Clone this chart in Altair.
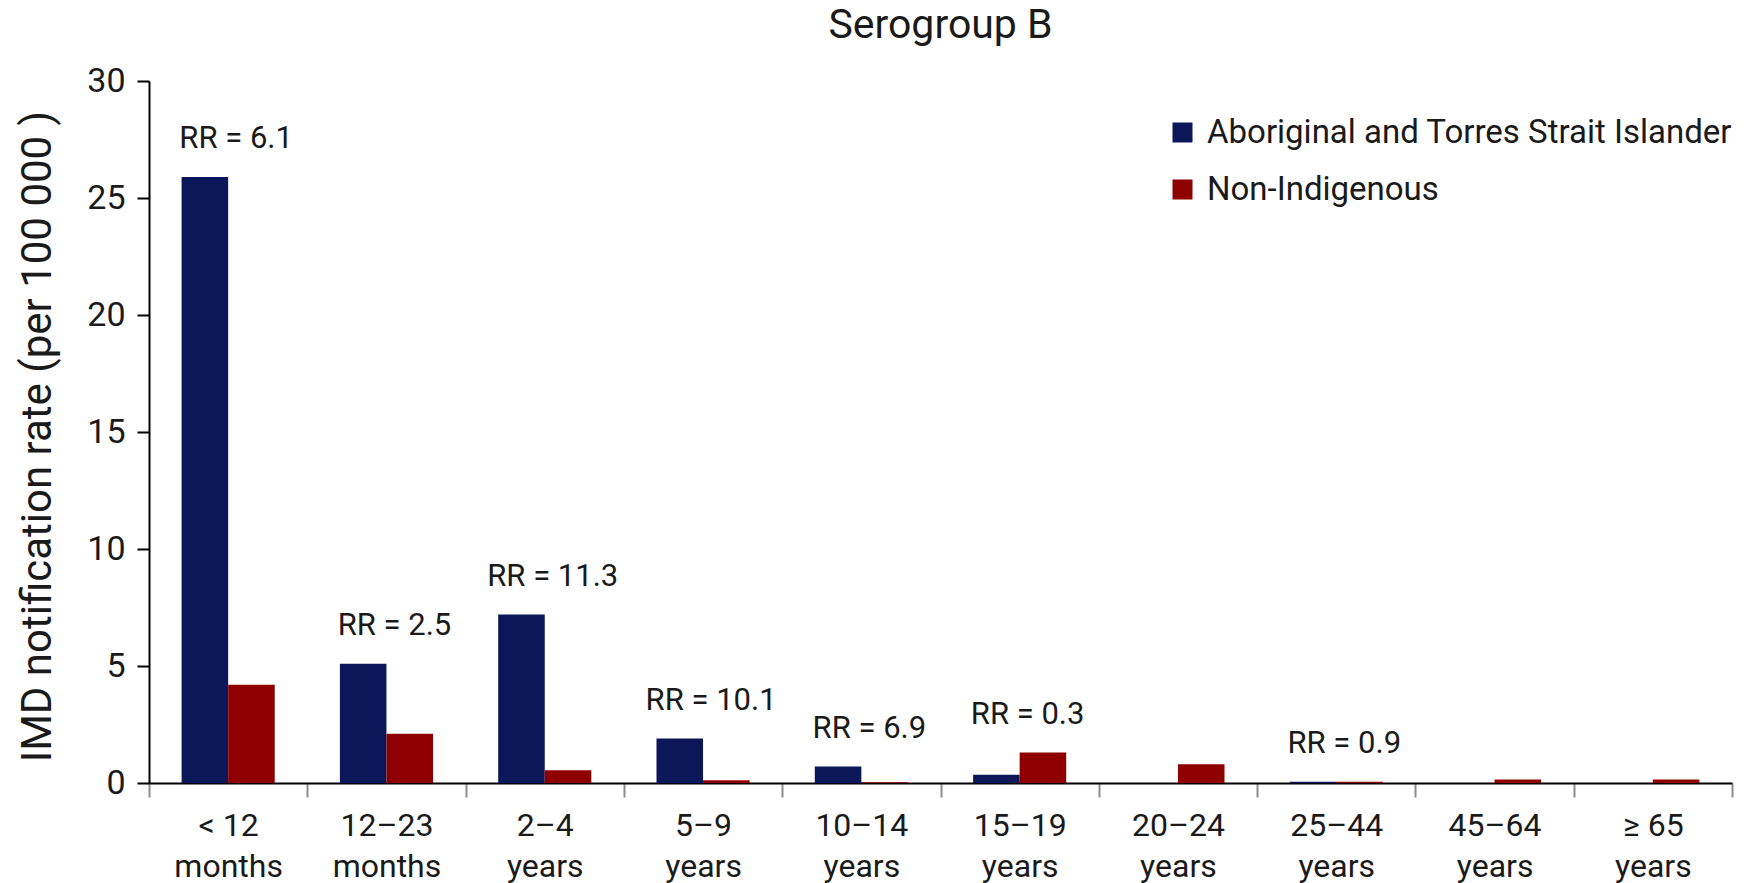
import altair as alt
import pandas as pd

# ---- data ----
age_top = ["< 12", "12–23", "2–4", "5–9", "10–14", "15–19", "20–24", "25–44", "45–64", "≥ 65"]
age_unit = ["months", "months", "years", "years", "years", "years", "years", "years", "years", "years"]
aboriginal = [25.9, 5.1, 7.2, 1.9, 0.7, 0.35, 0.0, 0.05, 0.0, 0.0]
non_indigenous = [4.2, 2.1, 0.55, 0.12, 0.03, 1.3, 0.8, 0.05, 0.15, 0.15]
rr_labels = ["RR = 6.1", "RR = 2.5", "RR = 11.3", "RR = 10.1", "RR = 6.9", "RR = 0.3", "", "RR = 0.9", "", ""]
groups = ["Aboriginal and Torres Strait Islander", "Non-Indigenous"]
colors = ["#0c175a", "#8e0000"]
y_ticks = [0, 5, 10, 15, 20, 25, 30]

FONT = "Roboto"
TEXT = "#1a1a1a"

cats = [f"{t}|{u}" for t, u in zip(age_top, age_unit)]
rows = []
for c, a, n in zip(cats, aboriginal, non_indigenous):
    rows.append({"age": c, "group": groups[0], "rate": a})
    rows.append({"age": c, "group": groups[1], "rate": n})
bars_df = pd.DataFrame(rows)

lab_df = pd.DataFrame({
    "age": cats,
    "rr": rr_labels,
    "rate": [max(a, n) for a, n in zip(aboriginal, non_indigenous)],
})
lab_df = lab_df[lab_df["rr"] != ""]

x_enc = alt.X(
    "age:N",
    sort=cats,
    scale=alt.Scale(paddingInner=0, paddingOuter=0),
    axis=alt.Axis(
        title=None,
        labelExpr="split(datum.label, '|')",
        labelAngle=0,
        labelFont=FONT,
        labelFontSize=32,
        labelLineHeight=41,
        labelBaseline="top",
        labelPadding=13,
        labelColor=TEXT,
        tickBand="extent",
        tickSize=14,
        tickColor="#8c8c8c",
        tickWidth=2,
        domainColor="black",
        domainWidth=2,
        grid=False,
    ),
)

y_enc = alt.Y(
    "rate:Q",
    scale=alt.Scale(domain=[0, 30], nice=False),
    axis=alt.Axis(
        values=y_ticks,
        title="IMD notification rate (per 100 000 )",
        titleFont=FONT,
        titleFontSize=42,
        titleFontWeight="normal",
        titleColor=TEXT,
        titleAngle=270,
        titleX=-99,
        titleY=355,
        titleAlign="center",
        titleBaseline="alphabetic",
        labelFont=FONT,
        labelFontSize=34,
        labelColor=TEXT,
        labelPadding=12,
        tickSize=12,
        tickWidth=2,
        tickColor="black",
        domainColor="black",
        domainWidth=2,
        grid=False,
    ),
)

bars = alt.Chart(bars_df).mark_bar().encode(
    x=x_enc,
    xOffset=alt.XOffset("group:N", sort=groups,
                        scale=alt.Scale(paddingOuter=0.7, paddingInner=0)),
    y=y_enc,
    color=alt.Color(
        "group:N",
        sort=groups,
        scale=alt.Scale(domain=groups, range=colors),
        legend=alt.Legend(
            title=None,
            orient="none",
            legendX=1017,
            legendY=35,
            labelFont=FONT,
            labelFontSize=33,
            labelColor=TEXT,
            labelOffset=8,
            labelLimit=0,
            symbolType="square",
            symbolSize=400,
            symbolStrokeWidth=0,
            rowPadding=23,
            padding=0,
        ),
    ),
)

labels = alt.Chart(lab_df).mark_text(
    font=FONT, fontSize=31, dy=-38, dx=8, baseline="middle", color=TEXT
).encode(
    x=x_enc,
    y=y_enc,
    text="rr:N",
)

chart = alt.layer(bars, labels).properties(
    width=1583,
    height=702,
    title=alt.TitleParams(
        "Serogroup B", font=FONT, fontSize=41, fontWeight="normal",
        color=TEXT, anchor="middle", baseline="alphabetic",
        frame="group", offset=-15,
    ),
    padding={"left": 141, "top": 73, "right": 10, "bottom": 108},
    autosize=alt.AutoSizeParams(type="none"),
).configure_view(stroke=None)

chart.save("out.html", embed_options={"renderer": "svg", "actions": False})
